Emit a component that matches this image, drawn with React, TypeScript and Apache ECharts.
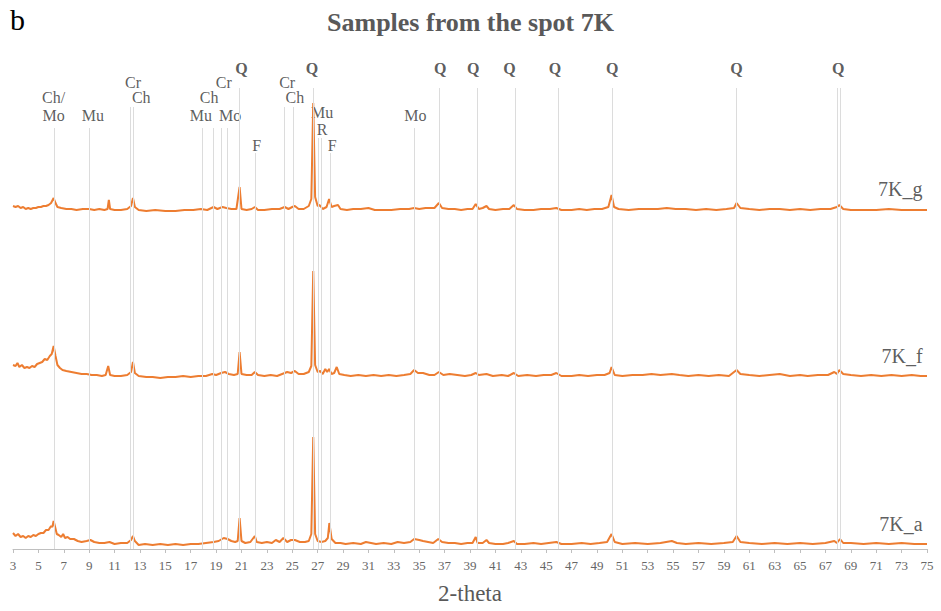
import React, { useEffect, useRef } from "react";
import * as echarts from "echarts";

// 2-theta ticks
const xMin = 3;
const xMax = 75;
const xStep = 2;

// Sample names and vertical stacking offsets (intensity units)
const sampleNames = ["7K_g", "7K_f", "7K_a"];
const sampleOffsets = [338, 171, 3];

// Patterns: [2-theta, intensity above the pattern's own baseline]
const pattern7Kg: number[][] = [
  [3.0,5],[3.2,4],[3.4,5],[3.6,3],[3.8,4],[4.0,2],[4.2,3],[4.4,2],[4.6,3],[4.8,3],[5.0,4],[5.2,4],[5.4,5],[5.6,5],[5.8,6],[6.0,8],[6.2,13],[6.35,8],[6.5,4],[6.8,3],[7.2,2],[7.6,2],[8.0,1],[8.5,2],[9.0,2],[9.4,1],[9.8,2],[10.2,1],[10.45,2],[10.55,11],[10.65,2],[11.0,1],[11.5,1],[12.0,2],[12.3,5],[12.45,13],[12.6,4],[12.9,1],[13.5,0],[14.2,1],[15,0],[15.8,0],[16.5,1],[17.2,1],[17.8,2],[18.3,1],[18.8,4],[19.1,2],[19.5,4],[19.8,3],[20.2,2],[20.6,2],[20.85,24],[21.0,2],[21.4,1],[21.8,2],[22.05,4],[22.3,1],[22.8,1],[23.4,2],[24.0,2],[24.4,4],[24.7,2],[25.0,4],[25.2,5],[25.5,2],[25.9,2],[26.3,5],[26.5,12],[26.65,108],[26.8,14],[27.0,5],[27.15,6],[27.4,2],[27.7,4],[27.9,12],[28.1,4],[28.3,5],[28.6,6],[28.8,2],[29.3,1],[29.8,2],[30.4,2],[31,3],[31.5,1],[32.2,1],[32.8,1],[33.5,2],[34.2,2],[34.6,3],[35,2],[35.5,3],[36.2,3],[36.55,8],[36.8,3],[37.3,2],[37.8,2],[38.3,1],[38.8,2],[39.2,2],[39.45,7],[39.7,2],[40.0,3],[40.3,5],[40.5,2],[41,1],[41.6,2],[42.1,2],[42.45,6],[42.7,2],[43.3,1],[44,1],[44.6,2],[45.3,2],[45.8,3],[46.2,1],[47,1],[47.6,2],[48.2,1],[48.8,2],[49.4,2],[49.9,4],[50.15,16],[50.35,4],[50.7,2],[51.5,1],[52.3,2],[53,2],[53.8,2],[54.5,3],[55.2,2],[56,2],[56.8,1],[57.6,2],[58.4,1],[59.2,2],[59.8,3],[60.0,8],[60.3,3],[61,2],[61.8,1],[62.6,2],[63.4,2],[64.2,1],[65,2],[65.8,1],[66.6,2],[67.4,2],[67.9,4],[68.1,6],[68.4,2],[69,1],[70,1],[71,1],[72,2],[73,1],[74,1],[75,1]
];

const pattern7Kf: number[][] = [
  [3.0,13],[3.2,12],[3.35,15],[3.5,11],[3.7,13],[3.9,10],[4.1,11],[4.3,10],[4.5,12],[4.7,11],[4.9,14],[5.1,15],[5.3,16],[5.5,19],[5.7,18],[5.9,22],[6.05,24],[6.2,32],[6.35,22],[6.5,13],[6.7,10],[6.9,8],[7.2,7],[7.6,6],[8.0,5],[8.4,4],[8.8,4],[9.2,3],[9.6,3],[10.0,2],[10.3,3],[10.5,12],[10.65,3],[11.0,2],[11.5,2],[12.0,3],[12.3,6],[12.45,16],[12.6,5],[12.9,2],[13.5,1],[14,1],[14.6,0],[15.2,1],[15.8,1],[16.4,2],[17,1],[17.6,2],[18.2,2],[18.7,4],[19.0,3],[19.4,5],[19.7,6],[20.0,4],[20.4,3],[20.7,4],[20.85,26],[21.0,4],[21.4,3],[21.8,3],[22.05,6],[22.3,3],[22.8,2],[23.3,3],[23.8,2],[24.2,4],[24.6,6],[24.9,5],[25.2,7],[25.5,4],[25.9,4],[26.3,6],[26.5,12],[26.65,107],[26.8,13],[27.0,6],[27.2,7],[27.4,4],[27.6,9],[27.75,6],[27.9,9],[28.1,4],[28.3,5],[28.5,11],[28.7,4],[29.1,3],[29.6,2],[30.2,3],[30.8,2],[31.4,3],[32,2],[32.6,3],[33.2,2],[33.8,3],[34.3,4],[34.6,8],[34.9,5],[35.3,5],[35.8,3],[36.2,3],[36.55,6],[36.9,3],[37.4,4],[38,3],[38.6,2],[39.1,3],[39.45,5],[39.7,3],[40.3,4],[40.8,2],[41.5,3],[42.0,2],[42.45,5],[42.8,2],[43.5,3],[44.2,2],[44.8,3],[45.4,3],[45.8,5],[46.2,2],[47,2],[47.6,3],[48.3,2],[49,3],[49.6,3],[50.0,5],[50.15,11],[50.4,3],[51,2],[51.8,3],[52.6,3],[53.3,4],[54,3],[54.9,4],[55.5,3],[56.2,2],[57,3],[57.8,2],[58.6,3],[59.4,2],[60.0,8],[60.3,4],[61,3],[61.8,2],[62.6,3],[63.4,4],[64.2,2],[65,3],[65.6,2],[66.4,3],[67.2,3],[67.7,6],[67.9,4],[68.1,8],[68.4,4],[69,3],[69.8,2],[70.6,3],[71.4,2],[72.2,3],[73,2],[73.8,3],[74.5,2],[75,2]
];

const pattern7Ka: number[][] = [
  [3.0,13],[3.2,10],[3.4,12],[3.6,9],[3.8,10],[4.0,8],[4.2,10],[4.4,9],[4.6,11],[4.8,10],[5.0,12],[5.2,13],[5.4,13],[5.6,16],[5.8,16],[6.0,20],[6.1,19],[6.2,25],[6.3,20],[6.45,12],[6.6,11],[6.8,9],[6.95,12],[7.1,8],[7.3,9],[7.5,7],[7.8,7],[8.1,5],[8.4,4],[8.8,5],[9.1,6],[9.4,4],[9.8,3],[10.2,3],[10.6,4],[11.0,2],[11.5,3],[12.0,3],[12.3,6],[12.45,10],[12.6,5],[12.9,1],[13.4,2],[14,1],[14.6,2],[15.2,1],[15.8,2],[16.4,1],[17,2],[17.6,2],[18.2,3],[18.8,4],[19.2,5],[19.6,8],[19.9,7],[20.2,5],[20.5,4],[20.7,5],[20.85,28],[21.0,5],[21.3,3],[21.7,4],[22.05,10],[22.2,4],[22.6,3],[23.0,4],[23.4,3],[23.7,6],[24.0,4],[24.3,8],[24.6,4],[24.9,6],[25.2,6],[25.6,4],[26.0,4],[26.3,5],[26.5,12],[26.65,109],[26.8,12],[27.0,5],[27.3,4],[27.6,5],[27.8,8],[27.92,23],[28.1,7],[28.4,3],[28.8,3],[29.2,2],[29.8,3],[30.4,2],[30.8,4],[31.2,3],[31.6,2],[32.2,3],[32.8,2],[33.3,4],[33.8,3],[34.3,4],[34.6,7],[35.0,6],[35.3,5],[35.7,4],[36.1,3],[36.5,7],[36.8,4],[37.3,3],[37.8,3],[38.3,2],[38.8,3],[39.2,3],[39.45,9],[39.6,3],[40.0,3],[40.3,6],[40.5,3],[41.0,2],[41.6,2],[42.0,3],[42.45,5],[42.7,2],[43.3,2],[44.0,3],[44.6,2],[45.2,3],[45.8,4],[46.2,2],[47.0,2],[47.8,3],[48.5,2],[49.2,3],[49.8,4],[50.15,12],[50.4,4],[51,2],[52,3],[53,2],[54,3],[54.9,5],[55.3,3],[56,2],[57,3],[58,2],[59,3],[59.7,4],[60.0,10],[60.3,4],[61,3],[62,2],[63,3],[64,2],[65,3],[66,2],[67,3],[67.7,5],[67.9,3],[68.15,7],[68.4,3],[69,3],[70,2],[71,3],[72,2],[73,3],[74,2],[75,2]
];

const patterns = [pattern7Kg, pattern7Kf, pattern7Ka];

// Phase reference lines: [2-theta, label row the line hangs below]
const refLines: number[][] = [
  [6.25,3],[9.0,3],[12.25,2],[12.5,2],[17.9,3],[18.8,3],[19.4,3],[19.9,3],[20.85,0],[22.05,5],
  [24.4,2],[25.1,2],[26.65,0],[27.05,4],[27.25,4],[28.0,5],[34.6,3],[36.6,0],[39.6,0],[42.55,0],
  [45.95,0],[50.2,0],[60.0,0],[67.9,0],[68.15,0]
];

// Phase labels: [text, 2-theta, row]
const phaseLabels: [string, number, number][] = [
  ["Ch/",6.2,2],["Mo",6.2,3],["Mu",9.3,3],["Cr",12.45,1],["Ch",13.1,2],
  ["Mu",17.8,3],["Ch",18.45,2],["Cr",19.6,1],["Mo",20.1,3],["Q",21.0,0],["F",22.2,5],
  ["Cr",24.6,1],["Ch",25.2,2],["Q",26.55,0],["Mu",27.35,6],["R",27.35,4],["F",28.15,5],
  ["Mo",34.7,3],["Q",36.65,0],["Q",39.25,0],["Q",42.1,0],["Q",45.7,0],["Q",50.2,0],
  ["Q",60.0,0],["Q",68.0,0]
];

const rowLabelY = [481, 467, 452, 434, 420, 404, 437];
const rowLineTop = [461, 450, 442, 421, 411, 396, 421];

const ORANGE = "#ED7D31";
const SERIF = "Liberation Serif, Times New Roman, serif";

export default function App() {
  const ref = useRef<HTMLDivElement>(null);
  useEffect(() => {
    document.body.style.margin = "0";
    const chart = echarts.init(ref.current!, null, { renderer: "svg" });

    const lineSeries = patterns.map((p, i) => ({
      type: "line",
      name: sampleNames[i],
      data: p.map(([x, y]) => [x, y + sampleOffsets[i]]),
      showSymbol: false,
      symbol: "none",
      lineStyle: { color: ORANGE, width: 2 },
      z: 3,
      silent: true,
    }));

    chart.setOption({
      animation: false,
      backgroundColor: "#ffffff",
      title: {
        text: "Samples from the spot 7K",
        left: "center",
        top: 4,
        textStyle: { fontFamily: SERIF, fontWeight: "bold", fontSize: 26, color: "#595959" },
      },
      graphic: [
        {
          type: "text",
          left: 10,
          top: 4,
          style: { text: "b", fontFamily: SERIF, fontSize: 30, fill: "#000" },
        },
      ],
      grid: { left: 13, right: 14, top: 49, bottom: 62, containLabel: false },
      xAxis: {
        type: "value",
        min: xMin,
        max: xMax,
        interval: xStep,
        name: "2-theta",
        nameLocation: "middle",
        nameGap: 33,
        nameTextStyle: { fontFamily: SERIF, fontSize: 23, color: "#595959" },
        axisLine: { show: true, lineStyle: { color: "#BFBFBF", width: 1 } },
        axisTick: { show: true, length: 4, lineStyle: { color: "#BFBFBF" } },
        axisLabel: { fontFamily: SERIF, fontSize: 13, color: "#666666", margin: 10 },
        splitLine: { show: false },
      },
      yAxis: {
        type: "value",
        min: 0,
        max: 500,
        show: false,
        splitLine: { show: false },
      },
      series: [
        {
          type: "scatter",
          name: "phases",
          symbolSize: 0,
          silent: true,
          z: 2,
          data: phaseLabels.map(([t, x, r]) => ({
            name: t,
            value: [x, rowLabelY[r]],
            label: t === "Q" ? { fontWeight: "bold" } : undefined,
          })),
          label: {
            show: true,
            position: "inside",
            formatter: (p: any) => p.name,
            fontFamily: SERIF,
            fontSize: 16,
            color: "#333333",
          },
          labelLayout: { hideOverlap: false },
          markLine: {
            silent: true,
            symbol: ["none", "none"],
            label: { show: false },
            lineStyle: { color: "#DCDCDC", width: 1, type: "solid" },
            data: refLines.map(([x, r]) => [
              { coord: [x, rowLineTop[r]] },
              { coord: [x, 0] },
            ]),
          },
        },
        {
          type: "scatter",
          name: "sample labels",
          symbolSize: 0,
          silent: true,
          z: 4,
          data: sampleNames.map((n, i) => ({ name: n, value: [74.65, sampleOffsets[i] + 22] })),
          label: {
            show: true,
            position: "inside",
            align: "right",
            formatter: (p: any) => p.name,
            fontFamily: SERIF,
            fontSize: 20,
            color: "#333333",
          },
        },
        ...lineSeries,
      ],
    } as any);

    return () => chart.dispose();
  }, []);
  return <div ref={ref} style={{ position: "fixed", left: 0, top: 0, width: 941, height: 611 }} />;
}
